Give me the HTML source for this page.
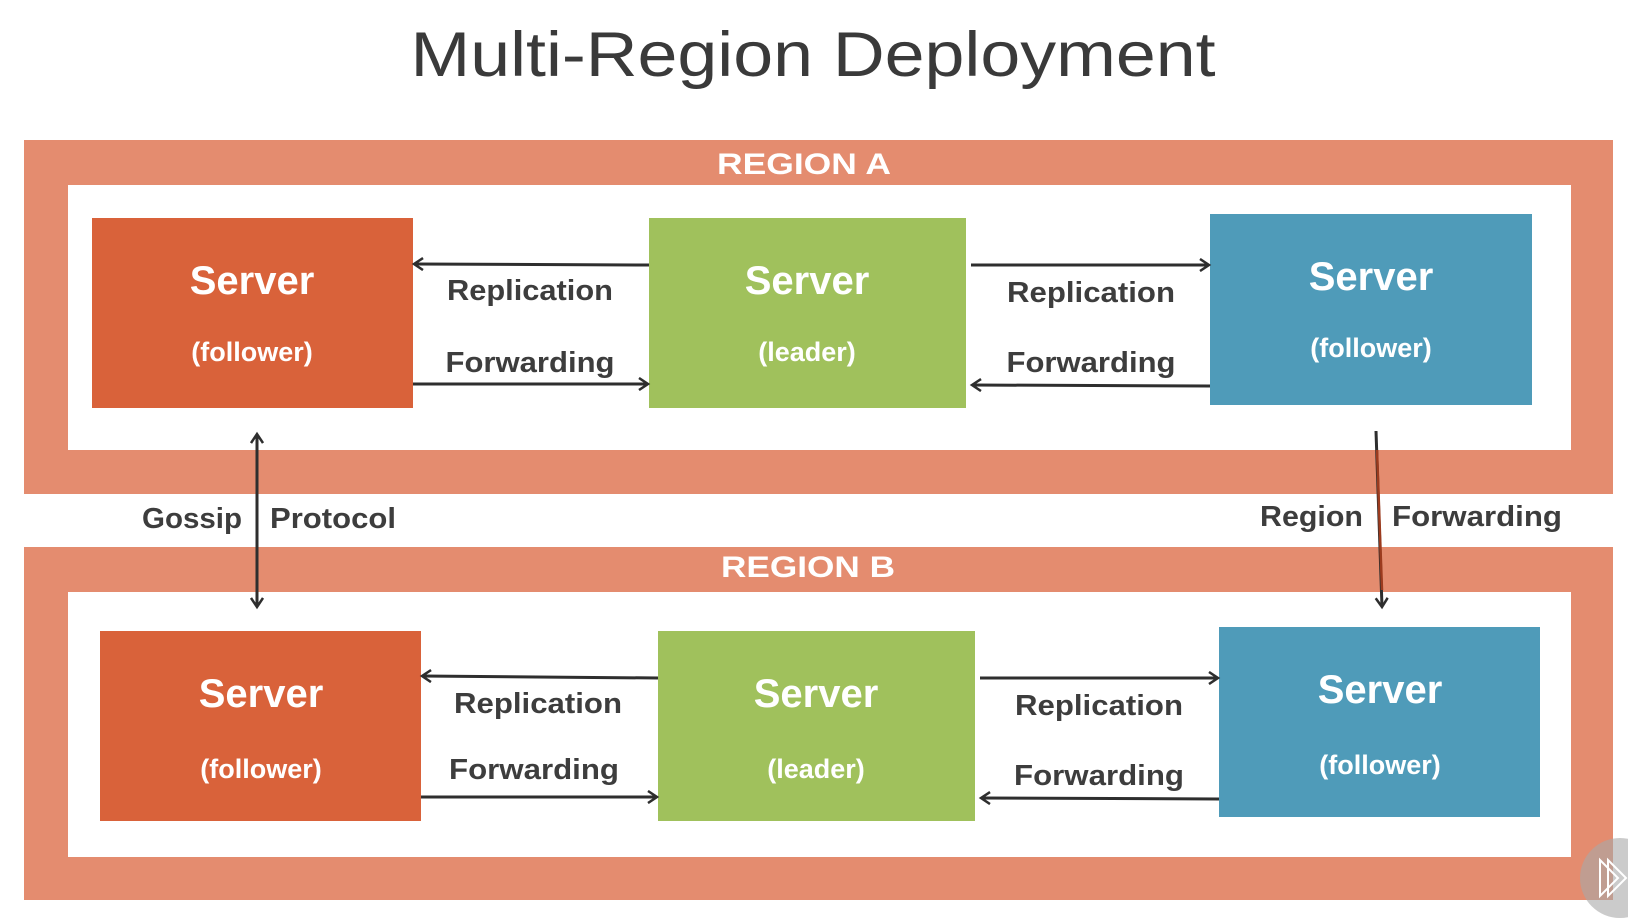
<!DOCTYPE html>
<html><head><meta charset="utf-8"><style>
html,body{margin:0;padding:0;background:#fff;width:1628px;height:918px;overflow:hidden}
svg{display:block}
text{font-family:"Liberation Sans",sans-serif}
</style></head><body>
<svg width="1628" height="918" viewBox="0 0 1628 918" xmlns="http://www.w3.org/2000/svg">
<defs>
<marker id="ah" markerWidth="14" markerHeight="14" refX="11" refY="7" orient="auto" markerUnits="userSpaceOnUse">
<path d="M2,1 L11,7 L2,13" fill="none" stroke="#2e2e2e" stroke-width="2.5"/>
</marker>
</defs>
<text x="813" y="76" font-size="63" fill="#3a3a3a" text-anchor="middle" textLength="805" lengthAdjust="spacingAndGlyphs">Multi-Region Deployment</text>

<!-- Region A -->
<rect x="24" y="140" width="1589" height="354" fill="#e48c6f"/>
<rect x="68" y="185" width="1503" height="265" fill="#fff"/>
<text x="804" y="174" font-size="30" font-weight="bold" fill="#fff" text-anchor="middle" textLength="174" lengthAdjust="spacingAndGlyphs">REGION A</text>
<!-- Region B -->
<rect x="24" y="547" width="1589" height="353" fill="#e48c6f"/>
<rect x="68" y="592" width="1503" height="265" fill="#fff"/>
<text x="808" y="577" font-size="30" font-weight="bold" fill="#fff" text-anchor="middle" textLength="174" lengthAdjust="spacingAndGlyphs">REGION B</text>

<g font-weight="bold" fill="#fff" text-anchor="middle">
<rect x="92" y="218" width="321" height="190" fill="#d9623a"/>
<text x="252" y="294" font-size="40">Server</text>
<text x="252" y="361" font-size="27">(follower)</text>
<rect x="649" y="218" width="317" height="190" fill="#a0c15c"/>
<text x="807" y="294" font-size="40">Server</text>
<text x="807" y="361" font-size="27">(leader)</text>
<rect x="1210" y="214" width="322" height="191" fill="#4f9bb9"/>
<text x="1371" y="290" font-size="40">Server</text>
<text x="1371" y="357" font-size="27">(follower)</text>

<rect x="100" y="631" width="321" height="190" fill="#d9623a"/>
<text x="261" y="707" font-size="40">Server</text>
<text x="261" y="778" font-size="27">(follower)</text>
<rect x="658" y="631" width="317" height="190" fill="#a0c15c"/>
<text x="816" y="707" font-size="40">Server</text>
<text x="816" y="778" font-size="27">(leader)</text>
<rect x="1219" y="627" width="321" height="190" fill="#4f9bb9"/>
<text x="1380" y="703" font-size="40">Server</text>
<text x="1380" y="774" font-size="27">(follower)</text>
</g>

<g stroke="#2e2e2e" stroke-width="3" fill="none">
<line x1="649" y1="265" x2="414" y2="264" marker-end="url(#ah)"/>
<line x1="413" y1="384" x2="648" y2="384" marker-end="url(#ah)"/>
<line x1="971" y1="265" x2="1209" y2="265" marker-end="url(#ah)"/>
<line x1="1210" y1="386" x2="972" y2="385" marker-end="url(#ah)"/>

<line x1="658" y1="678" x2="422" y2="676" marker-end="url(#ah)"/>
<line x1="421" y1="797" x2="657" y2="797" marker-end="url(#ah)"/>
<line x1="980" y1="678" x2="1218" y2="678" marker-end="url(#ah)"/>
<line x1="1219" y1="799" x2="981" y2="798" marker-end="url(#ah)"/>

<line x1="257" y1="520" x2="257" y2="434" marker-end="url(#ah)"/>
<line x1="257" y1="520" x2="257" y2="607" marker-end="url(#ah)"/>
<line x1="1376" y1="431" x2="1382" y2="607" stroke="#2e2e2e" marker-end="url(#ah)"/>
</g>
<line x1="1377" y1="450" x2="1382" y2="590" stroke="#9c3b1e" stroke-width="2.5"/>

<g font-weight="bold" fill="#3d3d3d" font-size="29">
<text x="530" y="300" text-anchor="middle" textLength="166" lengthAdjust="spacingAndGlyphs">Replication</text>
<text x="530" y="372" text-anchor="middle" textLength="169" lengthAdjust="spacingAndGlyphs">Forwarding</text>
<text x="1091" y="302" text-anchor="middle" textLength="168" lengthAdjust="spacingAndGlyphs">Replication</text>
<text x="1091" y="372" text-anchor="middle" textLength="169" lengthAdjust="spacingAndGlyphs">Forwarding</text>
<text x="538" y="713" text-anchor="middle" textLength="168" lengthAdjust="spacingAndGlyphs">Replication</text>
<text x="534" y="779" text-anchor="middle" textLength="170" lengthAdjust="spacingAndGlyphs">Forwarding</text>
<text x="1099" y="715" text-anchor="middle" textLength="168" lengthAdjust="spacingAndGlyphs">Replication</text>
<text x="1099" y="785" text-anchor="middle" textLength="170" lengthAdjust="spacingAndGlyphs">Forwarding</text>
<text x="242" y="528" text-anchor="end" textLength="100" lengthAdjust="spacingAndGlyphs">Gossip</text>
<text x="270" y="528" textLength="126" lengthAdjust="spacingAndGlyphs">Protocol</text>
<text x="1363" y="526" text-anchor="end" textLength="103" lengthAdjust="spacingAndGlyphs">Region</text>
<text x="1392" y="526" textLength="170" lengthAdjust="spacingAndGlyphs">Forwarding</text>
</g>

<circle cx="1620" cy="878" r="40" fill="#a8a8a8" opacity="0.6"/>
<path d="M1600,860 L1618,878 L1600,896 Z M1608,860 L1626,878 L1608,896 Z" fill="none" stroke="#fff" stroke-width="2"/>
</svg>
</body></html>
